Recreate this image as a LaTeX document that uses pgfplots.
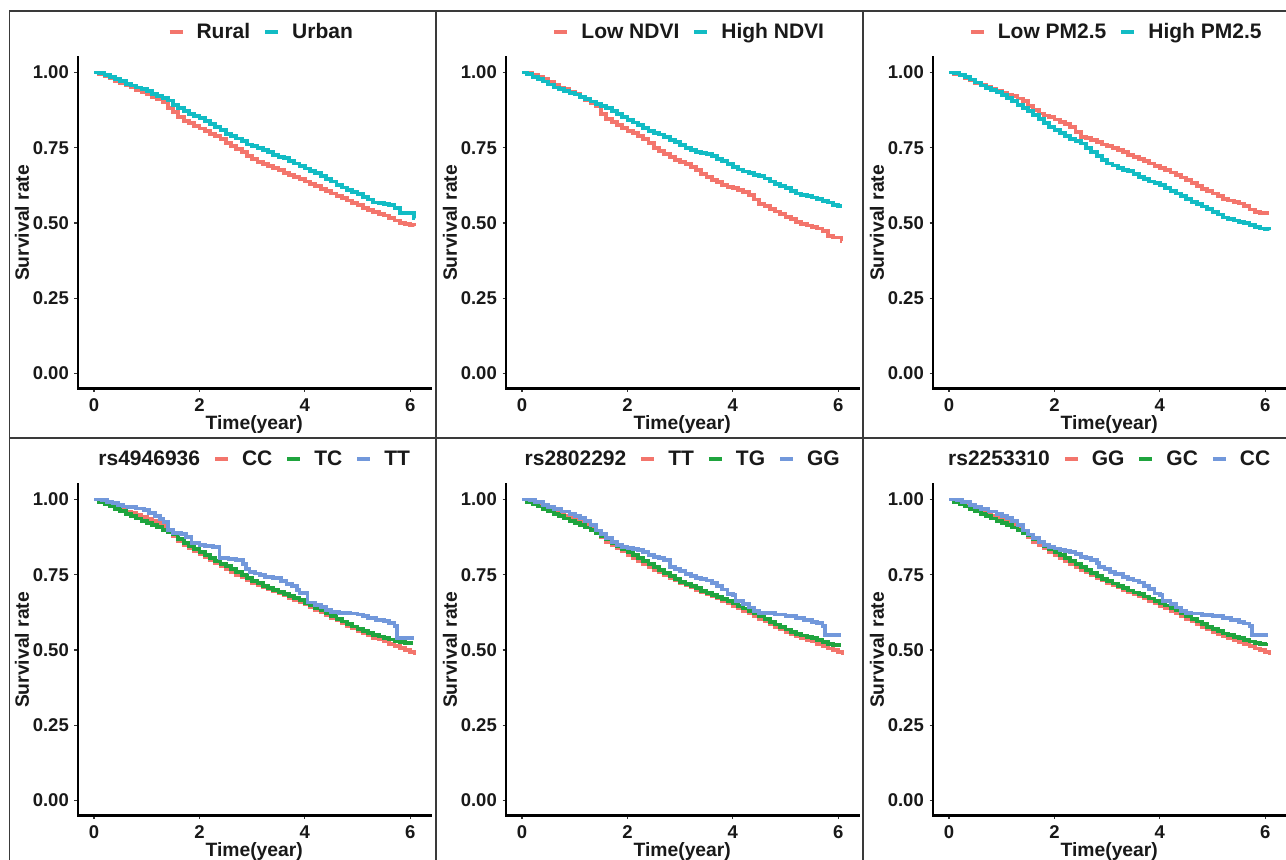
\documentclass[border=0pt]{standalone}
\usepackage{fontspec}
\setmainfont{Liberation Sans}
\usepackage{pgfplots}
\usepackage{pgfplotstable}
\pgfplotsset{compat=1.18}
\definecolor{cRed}{HTML}{F3756C}
\definecolor{cCyan}{HTML}{12BCC4}
\definecolor{cGreen}{HTML}{1FA43E}
\definecolor{cBlue}{HTML}{7298DB}
\definecolor{frame}{HTML}{3A3A3A}

% ---------- Panel 1 ----------
\pgfplotstableread[row sep=\\]{t s\\
0 1.000\\ 0.1 0.995\\ 0.2 0.988\\ 0.3 0.980\\ 0.4 0.972\\ 0.5 0.964\\ 0.6 0.957\\ 0.7 0.950\\ 0.8 0.942\\ 0.9 0.935\\
1.0 0.927\\ 1.1 0.920\\ 1.2 0.912\\ 1.3 0.903\\ 1.4 0.882\\ 1.5 0.868\\ 1.6 0.852\\ 1.7 0.840\\ 1.8 0.832\\ 1.9 0.822\\
2.0 0.814\\ 2.1 0.806\\ 2.2 0.797\\ 2.3 0.788\\ 2.4 0.778\\ 2.5 0.766\\ 2.6 0.757\\ 2.7 0.747\\ 2.8 0.736\\ 2.9 0.723\\
3.0 0.712\\ 3.1 0.704\\ 3.2 0.697\\ 3.3 0.690\\ 3.4 0.683\\ 3.5 0.675\\ 3.6 0.667\\ 3.7 0.659\\ 3.8 0.652\\ 3.9 0.645\\
4.0 0.638\\ 4.1 0.630\\ 4.2 0.622\\ 4.3 0.614\\ 4.4 0.606\\ 4.5 0.598\\ 4.6 0.590\\ 4.7 0.582\\ 4.8 0.575\\ 4.9 0.567\\
5.0 0.559\\ 5.1 0.551\\ 5.2 0.543\\ 5.3 0.537\\ 5.4 0.531\\ 5.5 0.525\\ 5.6 0.517\\ 5.7 0.508\\ 5.8 0.500\\ 5.9 0.496\\
6.0 0.494\\ 6.08 0.492\\
}\tRural
\pgfplotstableread[row sep=\\]{t s\\
0 1.000\\ 0.1 0.998\\ 0.2 0.992\\ 0.3 0.985\\ 0.4 0.978\\ 0.5 0.971\\ 0.6 0.963\\ 0.7 0.957\\ 0.8 0.950\\ 0.9 0.945\\
1.0 0.939\\ 1.1 0.930\\ 1.2 0.922\\ 1.3 0.915\\ 1.4 0.907\\ 1.5 0.893\\ 1.6 0.882\\ 1.7 0.872\\ 1.8 0.862\\ 1.9 0.856\\
2.0 0.850\\ 2.1 0.840\\ 2.2 0.830\\ 2.3 0.819\\ 2.4 0.808\\ 2.5 0.797\\ 2.6 0.790\\ 2.7 0.781\\ 2.8 0.773\\ 2.9 0.761\\
3.0 0.755\\ 3.1 0.750\\ 3.2 0.743\\ 3.3 0.736\\ 3.4 0.725\\ 3.5 0.720\\ 3.6 0.716\\ 3.7 0.706\\ 3.8 0.698\\ 3.9 0.690\\
4.0 0.681\\ 4.1 0.673\\ 4.2 0.665\\ 4.3 0.655\\ 4.4 0.645\\ 4.5 0.638\\ 4.6 0.627\\ 4.7 0.618\\ 4.8 0.609\\ 4.9 0.603\\
5.0 0.596\\ 5.1 0.587\\ 5.2 0.578\\ 5.3 0.568\\ 5.4 0.566\\ 5.5 0.563\\ 5.6 0.560\\ 5.7 0.550\\ 5.8 0.534\\ 5.9 0.532\\
6.0 0.532\\ 6.07 0.515\\ 6.08 0.515\\
}\tUrban
% ---------- Panel 2 ----------
\pgfplotstableread[row sep=\\]{t s\\
0 1.000\\ 0.1 0.998\\ 0.2 0.993\\ 0.3 0.986\\ 0.4 0.978\\ 0.5 0.968\\ 0.6 0.958\\ 0.7 0.950\\ 0.8 0.944\\ 0.9 0.937\\
1.0 0.930\\ 1.1 0.920\\ 1.2 0.908\\ 1.3 0.898\\ 1.4 0.888\\ 1.5 0.862\\ 1.6 0.845\\ 1.7 0.835\\ 1.8 0.826\\ 1.9 0.815\\
2.0 0.806\\ 2.1 0.798\\ 2.2 0.790\\ 2.3 0.778\\ 2.4 0.766\\ 2.5 0.750\\ 2.6 0.740\\ 2.7 0.730\\ 2.8 0.719\\ 2.9 0.710\\
3.0 0.703\\ 3.1 0.695\\ 3.2 0.686\\ 3.3 0.675\\ 3.4 0.664\\ 3.5 0.653\\ 3.6 0.644\\ 3.7 0.635\\ 3.8 0.626\\ 3.9 0.620\\
4.0 0.615\\ 4.1 0.610\\ 4.2 0.603\\ 4.3 0.592\\ 4.4 0.578\\ 4.5 0.564\\ 4.6 0.556\\ 4.7 0.546\\ 4.8 0.538\\ 4.9 0.529\\
5.0 0.520\\ 5.1 0.512\\ 5.2 0.504\\ 5.3 0.497\\ 5.4 0.492\\ 5.5 0.487\\ 5.6 0.482\\ 5.7 0.474\\ 5.8 0.458\\ 5.9 0.452\\
6.0 0.452\\ 6.06 0.441\\ 6.08 0.441\\
}\tLowNDVI
\pgfplotstableread[row sep=\\]{t s\\
0 1.000\\ 0.1 0.994\\ 0.2 0.986\\ 0.3 0.978\\ 0.4 0.970\\ 0.5 0.960\\ 0.6 0.950\\ 0.7 0.944\\ 0.8 0.939\\ 0.9 0.933\\
1.0 0.927\\ 1.1 0.920\\ 1.2 0.912\\ 1.3 0.904\\ 1.4 0.895\\ 1.5 0.889\\ 1.6 0.882\\ 1.7 0.872\\ 1.8 0.862\\ 1.9 0.852\\
2.0 0.843\\ 2.1 0.834\\ 2.2 0.825\\ 2.3 0.815\\ 2.4 0.806\\ 2.5 0.799\\ 2.6 0.794\\ 2.7 0.787\\ 2.8 0.777\\ 2.9 0.768\\
3.0 0.758\\ 3.1 0.749\\ 3.2 0.742\\ 3.3 0.737\\ 3.4 0.733\\ 3.5 0.729\\ 3.6 0.722\\ 3.7 0.713\\ 3.8 0.705\\ 3.9 0.697\\
4.0 0.687\\ 4.1 0.678\\ 4.2 0.671\\ 4.3 0.665\\ 4.4 0.660\\ 4.5 0.656\\ 4.6 0.648\\ 4.7 0.638\\ 4.8 0.630\\ 4.9 0.623\\
5.0 0.617\\ 5.1 0.606\\ 5.2 0.598\\ 5.3 0.594\\ 5.4 0.590\\ 5.5 0.585\\ 5.6 0.579\\ 5.7 0.574\\ 5.8 0.568\\ 5.9 0.560\\
6.0 0.557\\ 6.07 0.557\\
}\tHighNDVI
% ---------- Panel 3 ----------
\pgfplotstableread[row sep=\\]{t s\\
0 1.000\\ 0.1 0.996\\ 0.2 0.990\\ 0.3 0.982\\ 0.4 0.975\\ 0.5 0.966\\ 0.6 0.958\\ 0.7 0.951\\ 0.8 0.945\\ 0.9 0.938\\
1.0 0.931\\ 1.1 0.926\\ 1.2 0.921\\ 1.3 0.914\\ 1.4 0.905\\ 1.5 0.888\\ 1.6 0.875\\ 1.7 0.864\\ 1.8 0.857\\ 1.9 0.851\\
2.0 0.844\\ 2.1 0.836\\ 2.2 0.828\\ 2.3 0.818\\ 2.4 0.803\\ 2.5 0.787\\ 2.6 0.782\\ 2.7 0.776\\ 2.8 0.768\\ 2.9 0.761\\
3.0 0.755\\ 3.1 0.750\\ 3.2 0.743\\ 3.3 0.735\\ 3.4 0.726\\ 3.5 0.719\\ 3.6 0.714\\ 3.7 0.706\\ 3.8 0.698\\ 3.9 0.690\\
4.0 0.682\\ 4.1 0.675\\ 4.2 0.668\\ 4.3 0.659\\ 4.4 0.651\\ 4.5 0.642\\ 4.6 0.632\\ 4.7 0.622\\ 4.8 0.613\\ 4.9 0.605\\
5.0 0.598\\ 5.1 0.590\\ 5.2 0.580\\ 5.3 0.575\\ 5.4 0.570\\ 5.5 0.565\\ 5.6 0.556\\ 5.7 0.545\\ 5.8 0.536\\ 5.9 0.532\\
6.0 0.532\\ 6.07 0.532\\
}\tLowPM
\pgfplotstableread[row sep=\\]{t s\\
0 1.000\\ 0.1 0.998\\ 0.2 0.992\\ 0.3 0.985\\ 0.4 0.977\\ 0.5 0.967\\ 0.6 0.957\\ 0.7 0.948\\ 0.8 0.942\\ 0.9 0.935\\
1.0 0.925\\ 1.1 0.915\\ 1.2 0.905\\ 1.3 0.893\\ 1.4 0.882\\ 1.5 0.873\\ 1.6 0.860\\ 1.7 0.845\\ 1.8 0.832\\ 1.9 0.820\\
2.0 0.808\\ 2.1 0.798\\ 2.2 0.790\\ 2.3 0.780\\ 2.4 0.772\\ 2.5 0.764\\ 2.6 0.750\\ 2.7 0.737\\ 2.8 0.723\\ 2.9 0.710\\
3.0 0.698\\ 3.1 0.691\\ 3.2 0.684\\ 3.3 0.677\\ 3.4 0.672\\ 3.5 0.664\\ 3.6 0.653\\ 3.7 0.645\\ 3.8 0.638\\ 3.9 0.632\\
4.0 0.625\\ 4.1 0.616\\ 4.2 0.606\\ 4.3 0.598\\ 4.4 0.590\\ 4.5 0.581\\ 4.6 0.571\\ 4.7 0.563\\ 4.8 0.555\\ 4.9 0.546\\
5.0 0.537\\ 5.1 0.528\\ 5.2 0.518\\ 5.3 0.512\\ 5.4 0.508\\ 5.5 0.504\\ 5.6 0.499\\ 5.7 0.494\\ 5.8 0.487\\ 5.9 0.482\\
6.0 0.480\\ 6.08 0.476\\
}\tHighPM
% ---------- Panel 4 ----------
\pgfplotstableread[row sep=\\]{t s\\
0 1.000\\ 0.1 0.995\\ 0.2 0.988\\ 0.3 0.981\\ 0.4 0.974\\ 0.5 0.967\\ 0.6 0.960\\ 0.7 0.954\\ 0.8 0.948\\ 0.9 0.942\\
1.0 0.936\\ 1.1 0.929\\ 1.2 0.921\\ 1.3 0.911\\ 1.4 0.895\\ 1.5 0.878\\ 1.6 0.862\\ 1.7 0.850\\ 1.8 0.839\\ 1.9 0.828\\
2.0 0.818\\ 2.1 0.808\\ 2.2 0.798\\ 2.3 0.788\\ 2.4 0.778\\ 2.5 0.768\\ 2.6 0.759\\ 2.7 0.750\\ 2.8 0.741\\ 2.9 0.732\\
3.0 0.723\\ 3.1 0.716\\ 3.2 0.709\\ 3.3 0.702\\ 3.4 0.695\\ 3.5 0.688\\ 3.6 0.681\\ 3.7 0.674\\ 3.8 0.667\\ 3.9 0.659\\
4.0 0.651\\ 4.1 0.643\\ 4.2 0.634\\ 4.3 0.625\\ 4.4 0.616\\ 4.5 0.607\\ 4.6 0.598\\ 4.7 0.589\\ 4.8 0.580\\ 4.9 0.572\\
5.0 0.563\\ 5.1 0.555\\ 5.2 0.548\\ 5.3 0.541\\ 5.4 0.535\\ 5.5 0.529\\ 5.6 0.521\\ 5.7 0.513\\ 5.8 0.506\\ 5.9 0.499\\
6.0 0.493\\ 6.08 0.485\\
}\tAcc
\pgfplotstableread[row sep=\\]{t s\\
0 1.000\\ 0.1 0.993\\ 0.2 0.985\\ 0.3 0.977\\ 0.4 0.969\\ 0.5 0.961\\ 0.6 0.953\\ 0.7 0.945\\ 0.8 0.937\\ 0.9 0.929\\
1.0 0.922\\ 1.1 0.916\\ 1.2 0.909\\ 1.3 0.900\\ 1.4 0.892\\ 1.5 0.884\\ 1.6 0.870\\ 1.7 0.856\\ 1.8 0.845\\ 1.9 0.835\\
2.0 0.825\\ 2.1 0.816\\ 2.2 0.806\\ 2.3 0.797\\ 2.4 0.787\\ 2.5 0.778\\ 2.6 0.768\\ 2.7 0.758\\ 2.8 0.748\\ 2.9 0.738\\
3.0 0.729\\ 3.1 0.722\\ 3.2 0.714\\ 3.3 0.707\\ 3.4 0.699\\ 3.5 0.692\\ 3.6 0.686\\ 3.7 0.679\\ 3.8 0.672\\ 3.9 0.665\\
4.0 0.657\\ 4.1 0.648\\ 4.2 0.640\\ 4.3 0.631\\ 4.4 0.622\\ 4.5 0.612\\ 4.6 0.604\\ 4.7 0.595\\ 4.8 0.587\\ 4.9 0.578\\
5.0 0.570\\ 5.1 0.563\\ 5.2 0.557\\ 5.3 0.551\\ 5.4 0.545\\ 5.5 0.540\\ 5.6 0.535\\ 5.7 0.530\\ 5.8 0.526\\ 5.9 0.524\\
6.0 0.524\\ 6.06 0.524\\
}\tAtc
\pgfplotstableread[row sep=\\]{t s\\
0 1.000\\ 0.15 0.998\\ 0.25 0.993\\ 0.35 0.988\\ 0.45 0.982\\ 0.55 0.977\\ 0.65 0.974\\ 0.8 0.970\\ 0.95 0.964\\ 1.05 0.955\\
1.15 0.945\\ 1.25 0.935\\ 1.32 0.925\\ 1.4 0.900\\ 1.5 0.890\\ 1.65 0.885\\ 1.75 0.876\\ 1.85 0.856\\ 2.0 0.850\\ 2.1 0.846\\
2.25 0.841\\ 2.38 0.806\\ 2.55 0.803\\ 2.7 0.798\\ 2.82 0.785\\ 2.88 0.770\\ 2.95 0.760\\ 3.05 0.754\\ 3.15 0.748\\ 3.25 0.742\\
3.4 0.738\\ 3.55 0.728\\ 3.65 0.720\\ 3.75 0.712\\ 3.85 0.700\\ 3.9 0.690\\ 4.05 0.658\\ 4.2 0.650\\ 4.3 0.643\\ 4.4 0.634\\
4.5 0.627\\ 4.65 0.623\\ 4.85 0.621\\ 5.0 0.618\\ 5.1 0.612\\ 5.2 0.606\\ 5.35 0.600\\ 5.5 0.596\\ 5.6 0.590\\ 5.7 0.580\\
5.75 0.540\\ 6.07 0.540\\
}\tAtt
% ---------- Panel 5 ----------
\pgfplotstableread[row sep=\\]{t s\\
0 1.000\\ 0.1 0.995\\ 0.2 0.988\\ 0.3 0.981\\ 0.4 0.974\\ 0.5 0.967\\ 0.6 0.960\\ 0.7 0.953\\ 0.8 0.946\\ 0.9 0.940\\
1.0 0.933\\ 1.1 0.926\\ 1.2 0.917\\ 1.3 0.905\\ 1.4 0.890\\ 1.5 0.876\\ 1.6 0.860\\ 1.7 0.849\\ 1.8 0.838\\ 1.9 0.828\\
2.0 0.817\\ 2.1 0.807\\ 2.2 0.797\\ 2.3 0.787\\ 2.4 0.777\\ 2.5 0.767\\ 2.6 0.758\\ 2.7 0.749\\ 2.8 0.740\\ 2.9 0.731\\
3.0 0.723\\ 3.1 0.715\\ 3.2 0.708\\ 3.3 0.700\\ 3.4 0.693\\ 3.5 0.686\\ 3.6 0.679\\ 3.7 0.671\\ 3.8 0.663\\ 3.9 0.655\\
4.0 0.647\\ 4.1 0.639\\ 4.2 0.630\\ 4.3 0.621\\ 4.4 0.612\\ 4.5 0.604\\ 4.6 0.595\\ 4.7 0.586\\ 4.8 0.577\\ 4.9 0.568\\
5.0 0.560\\ 5.1 0.552\\ 5.2 0.545\\ 5.3 0.539\\ 5.4 0.533\\ 5.5 0.528\\ 5.6 0.520\\ 5.7 0.512\\ 5.8 0.505\\ 5.9 0.499\\
6.0 0.494\\ 6.08 0.485\\
}\tBtt
\pgfplotstableread[row sep=\\]{t s\\
0 1.000\\ 0.1 0.993\\ 0.2 0.985\\ 0.3 0.977\\ 0.4 0.969\\ 0.5 0.961\\ 0.6 0.953\\ 0.7 0.945\\ 0.8 0.937\\ 0.9 0.929\\
1.0 0.922\\ 1.1 0.915\\ 1.2 0.907\\ 1.3 0.898\\ 1.4 0.889\\ 1.5 0.880\\ 1.6 0.868\\ 1.7 0.856\\ 1.8 0.845\\ 1.9 0.835\\
2.0 0.825\\ 2.1 0.815\\ 2.2 0.805\\ 2.3 0.795\\ 2.4 0.785\\ 2.5 0.776\\ 2.6 0.766\\ 2.7 0.756\\ 2.8 0.746\\ 2.9 0.736\\
3.0 0.727\\ 3.1 0.720\\ 3.2 0.712\\ 3.3 0.705\\ 3.4 0.697\\ 3.5 0.690\\ 3.6 0.684\\ 3.7 0.677\\ 3.8 0.670\\ 3.9 0.663\\
4.0 0.655\\ 4.1 0.647\\ 4.2 0.638\\ 4.3 0.630\\ 4.4 0.621\\ 4.5 0.612\\ 4.6 0.603\\ 4.7 0.594\\ 4.8 0.585\\ 4.9 0.576\\
5.0 0.568\\ 5.1 0.561\\ 5.2 0.554\\ 5.3 0.548\\ 5.4 0.543\\ 5.5 0.539\\ 5.6 0.533\\ 5.7 0.527\\ 5.8 0.520\\ 5.9 0.517\\
6.0 0.516\\ 6.06 0.516\\
}\tBtg
\pgfplotstableread[row sep=\\]{t s\\
0 1.000\\ 0.15 0.998\\ 0.25 0.993\\ 0.4 0.983\\ 0.5 0.975\\ 0.6 0.968\\ 0.75 0.960\\ 0.9 0.952\\ 1.0 0.946\\ 1.1 0.938\\
1.2 0.928\\ 1.3 0.915\\ 1.4 0.897\\ 1.5 0.885\\ 1.6 0.873\\ 1.7 0.860\\ 1.8 0.850\\ 1.9 0.843\\ 2.0 0.838\\ 2.1 0.835\\
2.2 0.831\\ 2.3 0.825\\ 2.4 0.817\\ 2.5 0.810\\ 2.6 0.806\\ 2.7 0.798\\ 2.8 0.775\\ 2.9 0.768\\ 3.0 0.762\\ 3.1 0.753\\
3.2 0.746\\ 3.3 0.740\\ 3.4 0.736\\ 3.5 0.731\\ 3.6 0.723\\ 3.7 0.713\\ 3.8 0.701\\ 3.9 0.687\\ 4.0 0.684\\ 4.05 0.663\\
4.2 0.652\\ 4.3 0.641\\ 4.4 0.630\\ 4.5 0.624\\ 4.6 0.622\\ 4.8 0.618\\ 5.0 0.613\\ 5.2 0.607\\ 5.35 0.600\\ 5.5 0.593\\
5.6 0.589\\ 5.7 0.581\\ 5.75 0.551\\ 6.06 0.551\\
}\tBgg
% ---------- Panel 6 ----------
\pgfplotstableread[row sep=\\]{t s\\
0 1.000\\ 0.1 0.995\\ 0.2 0.988\\ 0.3 0.981\\ 0.4 0.974\\ 0.5 0.967\\ 0.6 0.960\\ 0.7 0.953\\ 0.8 0.947\\ 0.9 0.940\\
1.0 0.933\\ 1.1 0.926\\ 1.2 0.918\\ 1.3 0.906\\ 1.4 0.890\\ 1.5 0.875\\ 1.6 0.860\\ 1.7 0.849\\ 1.8 0.838\\ 1.9 0.827\\
2.0 0.817\\ 2.1 0.807\\ 2.2 0.797\\ 2.3 0.787\\ 2.4 0.777\\ 2.5 0.767\\ 2.6 0.758\\ 2.7 0.749\\ 2.8 0.740\\ 2.9 0.731\\
3.0 0.723\\ 3.1 0.715\\ 3.2 0.708\\ 3.3 0.700\\ 3.4 0.693\\ 3.5 0.686\\ 3.6 0.679\\ 3.7 0.671\\ 3.8 0.663\\ 3.9 0.655\\
4.0 0.647\\ 4.1 0.639\\ 4.2 0.630\\ 4.3 0.621\\ 4.4 0.612\\ 4.5 0.604\\ 4.6 0.595\\ 4.7 0.586\\ 4.8 0.577\\ 4.9 0.568\\
5.0 0.560\\ 5.1 0.552\\ 5.2 0.545\\ 5.3 0.539\\ 5.4 0.533\\ 5.5 0.527\\ 5.6 0.520\\ 5.7 0.512\\ 5.8 0.505\\ 5.9 0.499\\
6.0 0.494\\ 6.08 0.485\\
}\tCgg
\pgfplotstableread[row sep=\\]{t s\\
0 1.000\\ 0.1 0.993\\ 0.2 0.985\\ 0.3 0.977\\ 0.4 0.969\\ 0.5 0.961\\ 0.6 0.953\\ 0.7 0.945\\ 0.8 0.937\\ 0.9 0.929\\
1.0 0.922\\ 1.1 0.915\\ 1.2 0.907\\ 1.3 0.898\\ 1.4 0.889\\ 1.5 0.881\\ 1.6 0.869\\ 1.7 0.857\\ 1.8 0.846\\ 1.9 0.836\\
2.0 0.826\\ 2.1 0.816\\ 2.2 0.806\\ 2.3 0.796\\ 2.4 0.786\\ 2.5 0.777\\ 2.6 0.767\\ 2.7 0.757\\ 2.8 0.747\\ 2.9 0.737\\
3.0 0.728\\ 3.1 0.721\\ 3.2 0.713\\ 3.3 0.706\\ 3.4 0.698\\ 3.5 0.691\\ 3.6 0.685\\ 3.7 0.678\\ 3.8 0.671\\ 3.9 0.664\\
4.0 0.656\\ 4.1 0.648\\ 4.2 0.639\\ 4.3 0.631\\ 4.4 0.622\\ 4.5 0.613\\ 4.6 0.604\\ 4.7 0.595\\ 4.8 0.586\\ 4.9 0.577\\
5.0 0.569\\ 5.1 0.562\\ 5.2 0.555\\ 5.3 0.549\\ 5.4 0.544\\ 5.5 0.540\\ 5.6 0.534\\ 5.7 0.528\\ 5.8 0.522\\ 5.9 0.519\\
6.0 0.518\\ 6.06 0.518\\
}\tCgc
\pgfplotstableread[row sep=\\]{t s\\
0 1.000\\ 0.15 0.998\\ 0.25 0.993\\ 0.4 0.983\\ 0.5 0.975\\ 0.6 0.968\\ 0.75 0.960\\ 0.9 0.952\\ 1.0 0.946\\ 1.1 0.938\\
1.2 0.929\\ 1.3 0.915\\ 1.4 0.897\\ 1.5 0.884\\ 1.6 0.872\\ 1.7 0.859\\ 1.8 0.849\\ 1.9 0.842\\ 2.0 0.837\\ 2.1 0.833\\
2.2 0.829\\ 2.3 0.826\\ 2.4 0.818\\ 2.5 0.810\\ 2.6 0.805\\ 2.7 0.798\\ 2.8 0.790\\ 2.85 0.776\\ 2.95 0.768\\ 3.05 0.760\\
3.15 0.752\\ 3.3 0.742\\ 3.4 0.737\\ 3.5 0.731\\ 3.6 0.724\\ 3.7 0.714\\ 3.8 0.702\\ 3.9 0.688\\ 4.0 0.684\\ 4.05 0.663\\
4.2 0.652\\ 4.3 0.641\\ 4.4 0.630\\ 4.5 0.624\\ 4.6 0.621\\ 4.8 0.617\\ 5.0 0.613\\ 5.2 0.606\\ 5.35 0.599\\ 5.5 0.593\\
5.6 0.588\\ 5.7 0.581\\ 5.75 0.551\\ 6.06 0.551\\
}\tCcc

\pgfplotsset{
  km/.style={
    anchor=south west,
    scale only axis, width=352.5pt, height=331pt,
    xmin=-0.304, xmax=6.384, ymin=-0.05, ymax=1.05,
    axis x line*=bottom, axis y line*=left,
    axis line style={line width=2.6pt, black, -, line cap=rect},
    xtick={0,2,4,6}, xticklabels={0,2,4,6},
    ytick={0,0.25,0.5,0.75,1}, yticklabels={0.00,0.25,0.50,0.75,1.00},
    tick align=outside, major tick length=3.5pt,
    tick style={line width=1.2pt, color=black!80},
    xticklabel style={font=\fontsize{18.5}{20}\selectfont\bfseries, text=black!90, anchor=north, inner sep=0pt, yshift=-6.5pt},
    yticklabel style={font=\fontsize{18.5}{20}\selectfont\bfseries, text=black!90, anchor=east, inner sep=0pt, xshift=-5.5pt},
    xlabel={Time(year)}, ylabel={Survival rate},
    label style={font=\fontsize{19.3}{21}\selectfont\bfseries, text=black!90},
    xlabel style={at={(axis description cs:0.5,-0.1235)}, anchor=base},
    ylabel style={at={(axis description cs:-0.159,0.5)}, anchor=center},
    every axis plot/.append style={line width=3.8pt, const plot, no markers},
    legend columns=-1,
    legend cell align=left,
    legend image code/.code={\draw[line width=4pt] (0pt,0pt) -- (13pt,0pt);},
    legend style={draw=none, fill=none, anchor=center, inner sep=0pt,
      font=\fontsize{21}{23}\selectfont\bfseries, text=black!90,
      nodes={inner sep=0pt},
      /tikz/every odd column/.append style={column sep=12pt},
      /tikz/every even column/.append style={column sep=13pt}},
  },
  toplg/.style={legend style={at={(axis description cs:0.517,1.077)}}},
  botlg/.style={legend style={at={(axis description cs:0.483,1.077)}}},
}

\begin{document}
\begin{tikzpicture}
\useasboundingbox (0pt,0pt) rectangle (1286pt,860pt);
% top row
\begin{axis}[km, toplg, at={(78pt,471.5pt)}]
\addplot[cRed] table {\tRural}; \addlegendentry{Rural}
\addplot[cCyan] table {\tUrban}; \addlegendentry{Urban}
\end{axis}
\begin{axis}[km, toplg, at={(506pt,471.5pt)}]
\addplot[cRed] table {\tLowNDVI}; \addlegendentry{Low NDVI}
\addplot[cCyan] table {\tHighNDVI}; \addlegendentry{High NDVI}
\end{axis}
\begin{axis}[km, toplg, at={(933pt,471.5pt)}]
\addplot[cRed] table {\tLowPM}; \addlegendentry{Low PM2.5}
\addplot[cCyan] table {\tHighPM}; \addlegendentry{High PM2.5}
\end{axis}
% bottom row
\begin{axis}[km, botlg, at={(78pt,44.5pt)}]
\addlegendimage{empty legend} \addlegendentry{rs4946936}
\addplot[cRed] table {\tAcc}; \addlegendentry{CC}
\addplot[cGreen] table {\tAtc}; \addlegendentry{TC}
\addplot[cBlue] table {\tAtt}; \addlegendentry{TT}
\end{axis}
\begin{axis}[km, botlg, at={(506pt,44.5pt)}]
\addlegendimage{empty legend} \addlegendentry{rs2802292}
\addplot[cRed] table {\tBtt}; \addlegendentry{TT}
\addplot[cGreen] table {\tBtg}; \addlegendentry{TG}
\addplot[cBlue] table {\tBgg}; \addlegendentry{GG}
\end{axis}
\begin{axis}[km, botlg, at={(933pt,44.5pt)}]
\addlegendimage{empty legend} \addlegendentry{rs2253310}
\addplot[cRed] table {\tCgg}; \addlegendentry{GG}
\addplot[cGreen] table {\tCgc}; \addlegendentry{GC}
\addplot[cBlue] table {\tCcc}; \addlegendentry{CC}
\end{axis}
% panel frames
\draw[frame, line width=1.5pt] (9.5pt,0pt) -- (9.5pt,849pt) -- (1286pt,849pt);
\draw[frame, line width=1.5pt] (436pt,0pt) -- (436pt,849pt);
\draw[frame, line width=1.5pt] (863pt,0pt) -- (863pt,849pt);
\draw[frame, line width=1.5pt] (9.5pt,422pt) -- (1286pt,422pt);
\end{tikzpicture}
\end{document}
